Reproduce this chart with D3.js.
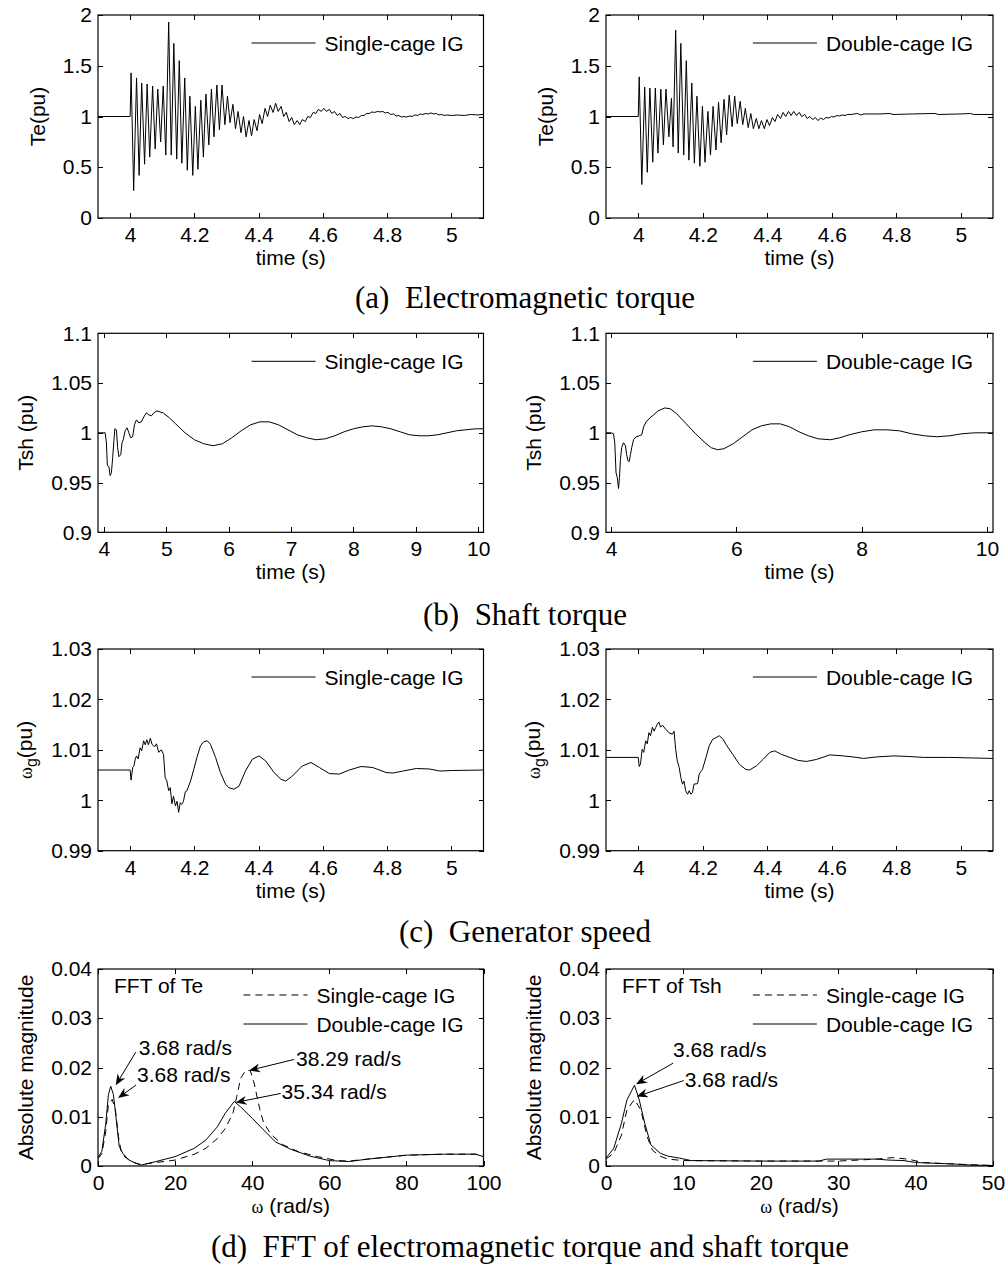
<!DOCTYPE html>
<html>
<head>
<meta charset="utf-8">
<script src="https://cdn.jsdelivr.net/npm/d3@7"></script>
<style>
  body { margin: 0; background: #fff; }
  svg text { font-family: Arial, "Liberation Sans", sans-serif; fill: #000; }
  .caption { font-family: "Times New Roman", "Liberation Serif", serif; font-size: 31px; white-space: pre; }
</style>
</head>
<body>
<svg id="fig" width="1005" height="1266"></svg>
<script>
// ---- tick values ----
const timeTicksShort   = [4, 4.2, 4.4, 4.6, 4.8, 5];
const timeTicksLongL   = [4, 5, 6, 7, 8, 9, 10];
const timeTicksLongR   = [4, 6, 8, 10];
const teTicks          = [0, 0.5, 1, 1.5, 2];
const tshTicks         = [0.9, 0.95, 1, 1.05, 1.1];
const wgTicks          = [0.99, 1, 1.01, 1.02, 1.03];
const fftTicks         = [0, 0.01, 0.02, 0.03, 0.04];
const fftTeOmegaTicks  = [0, 20, 40, 60, 80, 100];
const fftTshOmegaTicks = [0, 10, 20, 30, 40, 50];

const legendNames = ['Single-cage IG', 'Double-cage IG'];
const captions = ['(a)  Electromagnetic torque', '(b)  Shaft torque', '(c)  Generator speed',
                  '(d)  FFT of electromagnetic torque and shaft torque'];

// ---- (a) electromagnetic torque, [time s, Te pu] ----
const teSingle = [[3.9,1.0],[4.0,1.0],
  [4.003,1.43],[4.011,0.27],[4.020,1.38],[4.028,0.42],[4.036,1.33],[4.045,0.53],[4.053,1.32],[4.061,0.60],
  [4.070,1.30],[4.078,0.68],[4.086,1.27],[4.095,0.75],[4.103,1.30],[4.111,0.62],[4.120,1.93],[4.128,0.62],
  [4.136,1.72],[4.145,0.58],[4.153,1.55],[4.161,0.54],[4.170,1.38],[4.178,0.47],[4.186,1.20],[4.195,0.42],
  [4.203,1.10],[4.211,0.48],[4.220,1.16],[4.228,0.60],[4.236,1.22],[4.245,0.72],[4.253,1.27],[4.261,0.80],
  [4.270,1.31],[4.278,0.87],[4.286,1.31],[4.295,0.92],[4.303,1.20],[4.311,0.94],[4.320,1.12],[4.328,0.88],
  [4.336,1.05],[4.345,0.84],[4.353,1.00],[4.361,0.80],[4.370,0.96],[4.378,0.81],[4.386,0.97],[4.395,0.86],
  [4.403,1.02],[4.411,0.93],[4.420,1.08],[4.428,1.00],[4.436,1.11],[4.445,1.04],[4.453,1.13],[4.461,1.05],
  [4.470,1.10],[4.478,1.00],[4.486,1.04],[4.495,0.95],[4.503,0.99],[4.511,0.92],[4.520,0.96],[4.528,0.92],
  [4.536,0.97],[4.545,0.95],[4.553,1.00],[4.561,0.99],[4.570,1.04],[4.578,1.03],[4.586,1.07],[4.595,1.05],
  [4.603,1.08],[4.611,1.05],[4.620,1.07],[4.628,1.03],[4.636,1.05],[4.645,1.01],[4.653,1.03],[4.661,0.99],
  [4.670,1.00],[4.678,0.98],[4.686,0.99],[4.695,0.98],[4.703,0.995],[4.711,0.99],[4.720,1.01],[4.728,1.01],
  [4.736,1.03],[4.745,1.03],[4.753,1.045],[4.761,1.04],[4.770,1.05],[4.778,1.045],[4.786,1.05],[4.795,1.035],
  [4.803,1.04],[4.811,1.02],[4.820,1.025],[4.828,1.005],[4.836,1.01],[4.845,0.995],[4.853,1.0],[4.861,0.995],
  [4.870,1.005],[4.878,1.0],[4.886,1.015],[4.895,1.01],[4.903,1.025],[4.911,1.02],[4.920,1.03],[4.928,1.025],
  [4.936,1.035],[4.945,1.025],[4.953,1.03],[4.961,1.015],[4.970,1.02],[4.978,1.01],[4.986,1.015],[5.0,1.01],
  [5.02,1.015],[5.04,1.01],[5.06,1.02],[5.08,1.015],[5.10,1.02]];

const teDouble = [[3.9,1.0],[4.0,1.0],
  [4.003,1.39],[4.011,0.33],[4.020,1.29],[4.028,0.45],[4.036,1.28],[4.045,0.55],[4.053,1.28],[4.061,0.64],
  [4.070,1.27],[4.078,0.72],[4.086,1.27],[4.095,0.80],[4.103,1.18],[4.108,0.70],[4.116,1.85],[4.124,0.64],
  [4.132,1.72],[4.141,0.62],[4.149,1.55],[4.157,0.57],[4.166,1.33],[4.174,0.54],[4.182,1.20],[4.191,0.51],
  [4.199,1.10],[4.207,0.55],[4.216,1.05],[4.224,0.62],[4.232,1.10],[4.241,0.67],[4.249,1.14],[4.257,0.74],
  [4.266,1.17],[4.274,0.82],[4.282,1.21],[4.291,0.90],[4.299,1.20],[4.307,0.93],[4.316,1.15],[4.324,0.92],
  [4.332,1.08],[4.341,0.89],[4.349,1.03],[4.357,0.88],[4.366,0.98],[4.374,0.88],[4.382,0.96],[4.391,0.88],
  [4.399,0.97],[4.407,0.91],[4.416,0.99],[4.424,0.95],[4.432,1.02],[4.441,0.98],[4.449,1.04],[4.457,1.00],
  [4.466,1.05],[4.474,1.01],[4.482,1.05],[4.491,1.01],[4.499,1.04],[4.507,1.00],[4.516,1.02],[4.524,0.98],
  [4.532,1.00],[4.541,0.97],[4.549,0.99],[4.557,0.96],[4.566,0.985],[4.574,0.97],[4.582,0.99],[4.591,0.985],
  [4.599,1.00],[4.607,0.995],[4.616,1.01],[4.624,1.005],[4.632,1.015],[4.641,1.01],[4.649,1.02],[4.66,1.02],
  [4.68,1.03],[4.69,1.015],[4.70,1.025],[4.75,1.025],[4.78,1.03],[4.79,1.02],[4.85,1.025],[4.92,1.03],
  [4.93,1.02],[5.0,1.025],[5.03,1.03],[5.04,1.02],[5.1,1.02]];

// ---- (b) shaft torque, [time s, Tsh pu] ----
const tshSingle = [[3.9,1.0],[4.02,1.0],[4.04,0.99],[4.055,0.967],[4.08,0.966],[4.10,0.957],[4.12,0.96],
  [4.14,0.975],[4.16,0.992],[4.175,1.004],[4.20,1.003],[4.22,0.985],[4.24,0.976],[4.27,0.978],[4.29,0.99],
  [4.31,0.993],[4.34,1.002],[4.37,1.005],[4.40,1.0],[4.43,0.995],[4.46,0.996],[4.49,1.008],[4.52,1.013],
  [4.56,1.01],[4.60,1.011],[4.64,1.016],[4.68,1.02],[4.72,1.018],[4.76,1.017],[4.80,1.02],[4.85,1.022],
  [4.95,1.02],[5.05,1.015],[5.15,1.009],[5.3,1.0],[5.45,0.993],[5.6,0.989],[5.75,0.987],[5.9,0.989],
  [6.05,0.995],[6.2,1.002],[6.35,1.008],[6.5,1.011],[6.65,1.011],[6.8,1.008],[6.95,1.003],[7.1,0.998],
  [7.25,0.995],[7.4,0.993],[7.55,0.994],[7.7,0.997],[7.85,1.001],[8.0,1.004],[8.15,1.006],[8.3,1.007],
  [8.45,1.006],[8.6,1.004],[8.75,1.001],[8.9,0.998],[9.05,0.997],[9.2,0.997],[9.35,0.998],[9.5,1.0],
  [9.65,1.002],[9.8,1.003],[9.95,1.004],[10.1,1.004]];

const tshDouble = [[3.9,1.0],[4.0,1.0],[4.04,0.999],[4.06,0.99],[4.08,0.96],[4.10,0.955],[4.12,0.944],
  [4.135,0.955],[4.15,0.973],[4.17,0.985],[4.2,0.99],[4.23,0.987],[4.25,0.978],[4.27,0.972],[4.29,0.971],
  [4.31,0.978],[4.33,0.985],[4.36,0.993],[4.40,0.996],[4.45,0.997],[4.49,0.998],[4.52,1.006],[4.56,1.011],
  [4.62,1.015],[4.68,1.018],[4.75,1.022],[4.86,1.025],[4.95,1.024],[5.05,1.019],[5.2,1.009],[5.35,0.999],
  [5.5,0.99],[5.6,0.985],[5.7,0.983],[5.8,0.984],[5.95,0.989],[6.1,0.996],[6.25,1.003],[6.4,1.007],
  [6.55,1.009],[6.7,1.009],[6.85,1.006],[7.0,1.001],[7.15,0.997],[7.3,0.994],[7.5,0.993],[7.65,0.995],
  [7.8,0.998],[8.0,1.001],[8.2,1.003],[8.4,1.003],[8.6,1.002],[8.8,0.999],[9.0,0.997],[9.2,0.996],
  [9.4,0.997],[9.6,0.999],[9.8,1.0],[10.1,1.0]];

// ---- (c) generator speed, [time s, wg pu] ----
const wgSingle = [[3.9,1.006],[4.0,1.006],[4.003,1.004],[4.008,1.0065],[4.012,1.0068],[4.016,1.0082],
  [4.020,1.0088],[4.025,1.0082],[4.031,1.0104],[4.036,1.0098],[4.042,1.0118],[4.047,1.0110],[4.052,1.012],
  [4.057,1.011],[4.063,1.0123],[4.068,1.0111],[4.076,1.0106],[4.082,1.0112],[4.089,1.0095],[4.097,1.010],
  [4.104,1.0091],[4.109,1.0045],[4.114,1.0039],[4.120,1.0019],[4.125,1.0025],[4.130,0.9993],[4.135,1.0008],
  [4.141,0.9989],[4.146,0.9998],[4.151,0.9976],[4.156,0.9995],[4.161,0.9992],[4.166,0.9998],[4.172,1.0017],
  [4.177,1.0019],[4.188,1.0038],[4.198,1.0061],[4.208,1.0085],[4.219,1.0108],[4.229,1.0116],[4.240,1.0118],
  [4.250,1.0111],[4.266,1.0085],[4.281,1.0055],[4.297,1.0032],[4.307,1.0025],[4.323,1.0022],[4.339,1.0028],
  [4.359,1.0058],[4.380,1.0081],[4.401,1.0088],[4.422,1.0078],[4.448,1.0055],[4.469,1.0042],[4.484,1.0038],
  [4.505,1.0048],[4.536,1.0068],[4.563,1.0075],[4.589,1.0065],[4.620,1.0053],[4.651,1.0052],[4.682,1.006],
  [4.719,1.0067],[4.755,1.0065],[4.797,1.0055],[4.818,1.0054],[4.849,1.0058],[4.891,1.0063],[4.932,1.0062],
  [4.964,1.0058],[5.0,1.0059],[5.1,1.006]];

const wgDouble = [[3.9,1.0085],[4.0,1.0085],[4.003,1.0067],[4.007,1.0072],[4.012,1.0101],[4.017,1.0095],
  [4.023,1.0118],[4.028,1.0112],[4.033,1.0134],[4.038,1.0128],[4.044,1.0145],[4.049,1.0137],[4.054,1.0144],
  [4.059,1.0151],[4.064,1.0155],[4.069,1.0145],[4.075,1.0149],[4.085,1.0141],[4.095,1.0134],[4.106,1.0131],
  [4.111,1.0137],[4.116,1.0101],[4.121,1.0078],[4.127,1.0065],[4.132,1.0045],[4.137,1.0032],[4.142,1.0038],
  [4.147,1.0019],[4.153,1.0012],[4.158,1.0019],[4.163,1.0012],[4.168,1.0015],[4.173,1.0032],[4.184,1.0033],
  [4.189,1.0052],[4.199,1.0061],[4.210,1.0085],[4.220,1.0108],[4.231,1.0121],[4.241,1.0124],[4.251,1.0128],
  [4.262,1.0122],[4.272,1.0111],[4.293,1.0091],[4.314,1.0071],[4.334,1.0061],[4.345,1.006],[4.366,1.0068],
  [4.387,1.0081],[4.408,1.0095],[4.423,1.0098],[4.444,1.0091],[4.470,1.0085],[4.496,1.0079],[4.522,1.0077],
  [4.553,1.0081],[4.594,1.009],[4.636,1.0088],[4.678,1.0085],[4.698,1.0083],[4.740,1.0086],[4.792,1.0088],
  [4.833,1.0087],[4.885,1.0085],[4.963,1.0085],[5.1,1.0083]];

// ---- (d) FFT magnitude, [omega rad/s, |X|] ----
const fftTeSingle = [[0,0.0015],[1,0.0025],[2,0.007],[2.7,0.0125],[3.68,0.0135],[4.5,0.0115],[5.3,0.006],
  [6,0.003],[7,0.0018],[9,0.0008],[11,0.0003],[15,0.0007],[20,0.0012],[25,0.0024],[28,0.0036],[31,0.0056],
  [33,0.0076],[35,0.0107],[36,0.0141],[37,0.0178],[38.29,0.0194],[39.5,0.0194],[40.5,0.0168],[42,0.0114],
  [43,0.0087],[45,0.0063],[48,0.0043],[52,0.0029],[57,0.0019],[62,0.0011],[65,0.001],[70,0.0014],
  [75,0.0018],[80,0.0022],[90,0.0024],[98,0.0024],[100,0.0019]];
const fftTeDouble = [[0,0.0017],[1,0.003],[2,0.0085],[2.7,0.0145],[3.3,0.0162],[4,0.0145],[4.8,0.009],
  [5.5,0.004],[6.5,0.0025],[8,0.0012],[10,0.0005],[11.3,0.0002],[15,0.0009],[20,0.0019],[25,0.0036],
  [28,0.0053],[31,0.008],[33,0.0107],[35.34,0.0131],[37,0.012],[40,0.0097],[43,0.0073],[46,0.0049],
  [50,0.0034],[55,0.002],[60,0.0011],[65,0.0009],[70,0.0014],[75,0.0018],[80,0.0022],[90,0.0024],
  [98,0.0024],[100,0.0019]];
const fftTshSingle = [[0,0.0014],[1,0.0026],[2,0.0063],[2.7,0.0114],[3.68,0.0135],[4.5,0.0114],[5.3,0.006],
  [6,0.0032],[7,0.002],[8,0.0014],[10,0.0011],[20,0.001],[30,0.001],[35,0.0014],[37,0.0017],[39,0.0014],
  [41,0.0007],[45,0.0004],[50,0.0001]];
const fftTshDouble = [[0,0.0016],[1,0.0036],[2,0.0087],[2.7,0.0134],[3.68,0.0164],[4.3,0.0134],[5,0.0087],
  [5.8,0.0043],[7,0.0026],[8,0.002],[9.5,0.0016],[11,0.0011],[20,0.001],[27.5,0.001],[28.5,0.0014],
  [35,0.0014],[36.5,0.0012],[38.5,0.0011],[40,0.0007],[45,0.0004],[47,0.0002],[50,0.0001]];

// arrow annotations: label and the point the arrow touches
const fftTeNoteText  = ['3.68 rad/s', '3.68 rad/s', '38.29 rad/s', '35.34 rad/s'];
const fftTeNoteTip   = [[4.6, 0.0164], [5.2, 0.0138], [39.2, 0.0194], [35.7, 0.0129]];
const fftTshNoteText = ['3.68 rad/s', '3.68 rad/s'];
const fftTshNoteTip  = [[3.88, 0.0166], [3.97, 0.0141]];

// ---- layout ----
const cols = [{left: 98, right: 483.5}, {left: 606, right: 993}];
const rows = [
  {top: 15,    bottom: 218,   yLabelGap: 53, capY: 308,  capX: 525},
  {top: 333.3, bottom: 532.3, yLabelGap: 65, capY: 625,  capX: 525},
  {top: 649,   bottom: 850.7, yLabelGap: 66, capY: 942,  capX: 525},
  {top: 969,   bottom: 1166,  yLabelGap: 65, capY: 1257, capX: 530}
];
// label offsets from the arrow tip, pixels: text start/baseline and arrow tail
const fftTeNoteOffs  = [{tx: 23, ty: -30, ax: 20, ay: -33}, {tx: 19, ty: -16, ax: 18, ay: -13},
                        {tx: 47, ty: -4, ax: 45, ay: -11}, {tx: 46, ty: -3, ax: 45, ay: -9}];
const fftTshNoteOffs = [{tx: 37, ty: -27, ax: 37, ay: -21}, {tx: 48, ty: -10, ax: 47, ay: -16}];

const panels = [
  {col: 0, row: 0, xDomain: [3.9, 5.1], xTicks: timeTicksShort, yDomain: [0, 2], yTicks: teTicks,
   yLabel: 'Te(pu)', lines: [{data: teSingle, name: legendNames[0]}]},
  {col: 1, row: 0, xDomain: [3.9, 5.1], xTicks: timeTicksShort, yDomain: [0, 2], yTicks: teTicks,
   yLabel: 'Te(pu)', lines: [{data: teDouble, name: legendNames[1]}]},
  {col: 0, row: 1, xDomain: [3.905, 10.085], xTicks: timeTicksLongL, yDomain: [0.9, 1.1], yTicks: tshTicks,
   yLabel: 'Tsh (pu)', lines: [{data: tshSingle, name: legendNames[0]}]},
  {col: 1, row: 1, xDomain: [3.92, 10.095], xTicks: timeTicksLongR, yDomain: [0.9, 1.1], yTicks: tshTicks,
   yLabel: 'Tsh (pu)', lines: [{data: tshDouble, name: legendNames[1]}]},
  {col: 0, row: 2, xDomain: [3.9, 5.1], xTicks: timeTicksShort, yDomain: [0.99, 1.03], yTicks: wgTicks,
   yLabel: 'omega', lines: [{data: wgSingle, name: legendNames[0]}]},
  {col: 1, row: 2, xDomain: [3.9, 5.1], xTicks: timeTicksShort, yDomain: [0.99, 1.03], yTicks: wgTicks,
   yLabel: 'omega', lines: [{data: wgDouble, name: legendNames[1]}]},
  {col: 0, row: 3, xDomain: [0, 100], xTicks: fftTeOmegaTicks, yDomain: [0, 0.04], yTicks: fftTicks,
   yLabel: 'Absolute magnitude', xOmega: true, title: 'FFT of Te',
   lines: [{data: fftTeSingle, name: legendNames[0], dash: '7,5'}, {data: fftTeDouble, name: legendNames[1]}],
   notes: fftTeNoteText.map((t, i) => ({text: t, tip: fftTeNoteTip[i], off: fftTeNoteOffs[i]}))},
  {col: 1, row: 3, xDomain: [0, 50], xTicks: fftTshOmegaTicks, yDomain: [0, 0.04], yTicks: fftTicks,
   yLabel: 'Absolute magnitude', xOmega: true, title: 'FFT of Tsh',
   lines: [{data: fftTshSingle, name: legendNames[0], dash: '7,5'}, {data: fftTshDouble, name: legendNames[1]}],
   notes: fftTshNoteText.map((t, i) => ({text: t, tip: fftTshNoteTip[i], off: fftTshNoteOffs[i]}))}
];

const svg = d3.select('#fig'),
  fontSize = 21,
  tickLen  = 5;

svg.append('rect').attr('width', 1005).attr('height', 1266).attr('fill', '#fff');

panels.forEach((p, i) => drawPanel(p, i));

rows.forEach((r, i) => {
  svg.append('text')
    .attr('class', 'caption')
    .attr('x', r.capX)
    .attr('y', r.capY)
    .attr('text-anchor', 'middle')
    .text(captions[i]);
});

function styleAxis(sel) {
  sel.select('.domain').remove();
  sel.selectAll('line').attr('stroke', '#000').attr('shape-rendering', 'crispEdges');
  sel.selectAll('text')
    .attr('font-size', fontSize)
    .attr('font-family', 'Arial, "Liberation Sans", sans-serif')
    .attr('fill', '#000');
  sel.attr('font-family', null).attr('font-size', null);
}

function drawPanel(p, idx) {
  let c = cols[p.col],
    r = rows[p.row],
    x = d3.scaleLinear().domain(p.xDomain).range([c.left, c.right]),
    y = d3.scaleLinear().domain(p.yDomain).range([r.bottom, r.top]),
    g = svg.append('g'),
    fmt = d => String(d);

  // clip
  let clipId = 'clip' + idx;
  g.append('clipPath').attr('id', clipId)
    .append('rect')
    .attr('x', c.left).attr('y', r.top)
    .attr('width', c.right - c.left).attr('height', r.bottom - r.top);

  // Axes (MATLAB style: inward ticks on all four sides)
  g.append('g').attr('transform', `translate(0,${r.bottom})`)
    .call(d3.axisBottom(x).tickValues(p.xTicks).tickFormat(fmt).tickSizeInner(-tickLen).tickSizeOuter(0).tickPadding(9))
    .call(styleAxis);
  g.append('g').attr('transform', `translate(0,${r.top})`)
    .call(d3.axisTop(x).tickValues(p.xTicks).tickFormat('').tickSizeInner(-tickLen).tickSizeOuter(0))
    .call(styleAxis);
  g.append('g').attr('transform', `translate(${c.left},0)`)
    .call(d3.axisLeft(y).tickValues(p.yTicks).tickFormat(fmt).tickSizeInner(-tickLen).tickSizeOuter(0).tickPadding(6))
    .call(styleAxis);
  g.append('g').attr('transform', `translate(${c.right},0)`)
    .call(d3.axisRight(y).tickValues(p.yTicks).tickFormat('').tickSizeInner(-tickLen).tickSizeOuter(0))
    .call(styleAxis);

  // data lines
  let line = d3.line().x(d => x(d[0])).y(d => y(d[1]));
  let plot = g.append('g').attr('clip-path', `url(#${clipId})`);
  p.lines.forEach(s => {
    plot.append('path')
      .datum(s.data)
      .attr('d', line)
      .attr('fill', 'none')
      .attr('stroke', '#000')
      .attr('stroke-width', 1)
      .attr('stroke-dasharray', s.dash || null);
  });

  // frame
  g.append('rect')
    .attr('x', c.left).attr('y', r.top)
    .attr('width', c.right - c.left).attr('height', r.bottom - r.top)
    .attr('fill', 'none').attr('stroke', '#000').attr('stroke-width', 1.2);

  // x label
  let xl = g.append('text')
    .attr('x', (c.left + c.right) / 2)
    .attr('y', r.bottom + 47)
    .attr('text-anchor', 'middle')
    .attr('font-size', fontSize);
  if (p.xOmega) {
    xl.append('tspan').attr('font-family', '"Liberation Serif", serif').attr('font-size', 18).text('\u03C9');
    xl.append('tspan').text(' (rad/s)');
  } else {
    xl.text('time (s)');
  }

  // y label
  let ly = (r.top + r.bottom) / 2,
    lx = c.left - r.yLabelGap,
    yl = g.append('text')
      .attr('transform', `translate(${lx},${ly}) rotate(-90)`)
      .attr('text-anchor', 'middle')
      .attr('font-size', fontSize);
  if (p.yLabel === 'omega') {
    yl.append('tspan').attr('font-family', '"Liberation Serif", serif').attr('font-size', 18).text('\u03C9');
    yl.append('tspan').attr('dy', 5).attr('font-size', 16).text('g');
    yl.append('tspan').attr('dy', -5).text('(pu)');
  } else {
    yl.text(p.yLabel);
  }

  // panel title text inside the axes
  if (p.title) {
    g.append('text').attr('x', c.left + 16).attr('y', r.top + 24)
      .attr('font-size', fontSize).text(p.title);
  }

  // legend (box off, entries left-aligned, right edge 20px from axes)
  let lg = g.append('g'),
    lineY0 = p.lines.length > 1 ? r.top + 26 : r.top + 28,
    texts = p.lines.map((s, i) => lg.append('text')
      .attr('y', lineY0 + i * 29 + 7.5)
      .attr('font-size', fontSize)
      .text(s.name)),
    maxW = d3.max(texts, t => t.node().getComputedTextLength()),
    tx = c.right - 20 - maxW;
  texts.forEach(t => t.attr('x', tx));
  p.lines.forEach((s, i) => {
    lg.append('line')
      .attr('x1', tx - 73).attr('x2', tx - 9)
      .attr('y1', lineY0 + i * 29).attr('y2', lineY0 + i * 29)
      .attr('stroke', '#000').attr('stroke-width', 1)
      .attr('stroke-dasharray', s.dash || null);
  });

  // arrow annotations
  (p.notes || []).forEach(n => {
    let px = x(n.tip[0]), py = y(n.tip[1]),
      ax = px + n.off.ax, ay = py + n.off.ay,
      ang = Math.atan2(py - ay, px - ax),
      len = 11, half = 4.5;
    g.append('line')
      .attr('x1', ax).attr('y1', ay).attr('x2', px - Math.cos(ang) * 6).attr('y2', py - Math.sin(ang) * 6)
      .attr('stroke', '#000').attr('stroke-width', 1);
    let bx = px - Math.cos(ang) * len, by = py - Math.sin(ang) * len,
      nx = -Math.sin(ang), ny = Math.cos(ang),
      mx = px - Math.cos(ang) * len * 0.7, my = py - Math.sin(ang) * len * 0.7;
    g.append('path')
      .attr('d', `M${px},${py}L${bx + nx * half},${by + ny * half}L${mx},${my}L${bx - nx * half},${by - ny * half}Z`)
      .attr('fill', '#000');
    g.append('text')
      .attr('x', px + n.off.tx).attr('y', py + n.off.ty)
      .attr('font-size', fontSize)
      .text(n.text);
  });
}
</script>
</body>
</html>
